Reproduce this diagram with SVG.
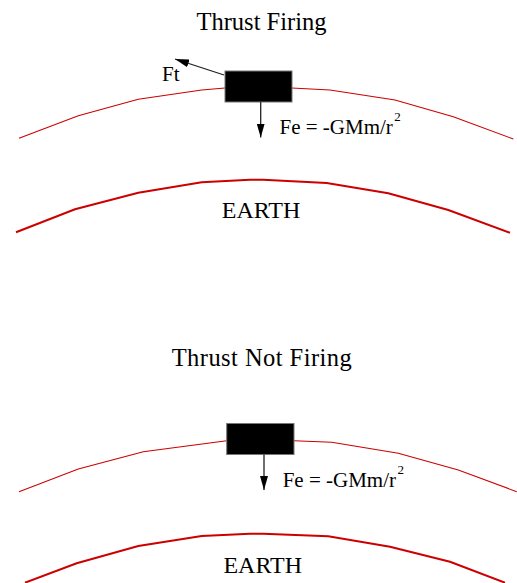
<svg xmlns="http://www.w3.org/2000/svg" width="517" height="583" viewBox="0 0 517 583">
<style>
text{font-family:"Liberation Serif","Times New Roman",serif;fill:#000}
.title{font-size:24.5px}
.earth-label{font-size:24px}
.force{font-size:21px}
.sup{font-size:13px}
.orbit{fill:none;stroke:#cc0000;stroke-width:1.1}
.earth{fill:none;stroke:#cc0000;stroke-width:2}
.sat{fill:#000;stroke:#777;stroke-width:1}
.vec{stroke:#222;stroke-width:1.3;fill:none}
.head{fill:#000}
</style>
<defs>
<marker id="ah" viewBox="0 0 14 8" refX="14" refY="4" markerWidth="14" markerHeight="8" markerUnits="userSpaceOnUse" orient="auto">
<path d="M0,0 L14,4 L0,8 Z" fill="#000"/>
</marker>
</defs>
<g id="panel-firing">
<text id="title-firing" class="title" x="261.5" y="30" text-anchor="middle">Thrust Firing</text>
<path id="orbit-1" class="orbit" d="M19,138.3 L78.3,115.7 L138.3,99.3 L201.7,90 L225,88 M291.7,88 L330,90 L395,100 L453.3,116.7 L513.3,139"/>
<path id="earth-1" class="earth" d="M16,232.3 L75,209.3 L138.3,192.7 L201.7,182.3 L250,179.7 L263,179.7 L326.7,183 L388.3,193.3 L448.3,210 L510,232.7"/>
<text id="earth-label-1" class="earth-label" x="261" y="217.5" text-anchor="middle">EARTH</text>
<g id="satellite-1"><rect class="sat" x="225" y="71" width="67" height="31"/></g>
<g id="connectors-1">
<line class="vec" x1="260.7" y1="102" x2="260.7" y2="137.5" marker-end="url(#ah)"/>
<line class="vec" x1="224" y1="75" x2="175" y2="59" marker-end="url(#ah)"/>
</g>
<text id="ft-label" class="force" x="162" y="80.5">Ft</text>
<text id="fe-label-1" class="force" x="279.5" y="133.5">Fe = -GMm/r<tspan class="sup" dx="1.5" dy="-12.5">2</tspan></text>
</g>
<g id="panel-not-firing">
<text id="title-not-firing" class="title" x="261.7" y="365.5" text-anchor="middle" textLength="180">Thrust Not Firing</text>
<path id="orbit-2" class="orbit" d="M19,491.7 L78.3,469 L143.3,451.7 L226.7,440.7 M294,440.7 L331.7,442.3 L398.3,453.3 L458.3,470 L516.7,491.7"/>
<path id="earth-2" class="earth" d="M25,582.7 L76.7,563.3 L138.3,546 L201.7,536 L250,533.7 L263,533.7 L328.3,536.3 L390,546.7 L450,561.7 L505,582.7"/>
<text id="earth-label-2" class="earth-label" x="262.7" y="572.7" text-anchor="middle">EARTH</text>
<g id="satellite-2"><rect class="sat" x="226.7" y="423.5" width="67.3" height="31"/></g>
<g id="connectors-2">
<line class="vec" x1="264" y1="454.5" x2="264" y2="490" marker-end="url(#ah)"/>
</g>
<text id="fe-label-2" class="force" x="282.7" y="486.7">Fe = -GMm/r<tspan class="sup" dx="1.5" dy="-12.5">2</tspan></text>
</g>
</svg>
